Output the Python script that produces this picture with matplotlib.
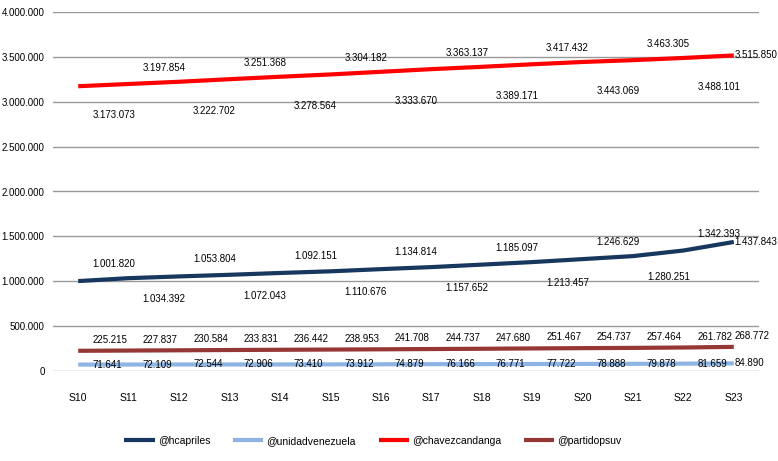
import matplotlib
matplotlib.use("Agg")
import matplotlib.pyplot as plt
from matplotlib import font_manager

weeks = ['S10', 'S11', 'S12', 'S13', 'S14', 'S15', 'S16',
         'S17', 'S18', 'S19', 'S20', 'S21', 'S22', 'S23']
hcapriles = [1001820, 1034392, 1053804, 1072043, 1092151, 1110676, 1134814,
             1157652, 1185097, 1213457, 1246629, 1280251, 1342393, 1437843]
unidadvenezuela = [71641, 72109, 72544, 72906, 73410, 73912, 74879,
                   76166, 76771, 77722, 78888, 79878, 81659, 84890]
chavezcandanga = [3173073, 3197854, 3222702, 3251368, 3278564, 3304182, 3333670,
                  3363137, 3389171, 3417432, 3443069, 3463305, 3488101, 3515850]
partidopsuv = [225215, 227837, 230584, 233831, 236442, 238953, 241708,
               244737, 247680, 251467, 254737, 257464, 261782, 268772]

names = [f.name for f in font_manager.fontManager.ttflist]
fam = ['Liberation Sans Narrow'] if 'Liberation Sans Narrow' in names else []
plt.rcParams['font.family'] = fam + ['Liberation Sans', 'DejaVu Sans']


def fmt(v):
    return f"{v:,}".replace(',', '.')


fig = plt.figure(figsize=(7.78, 4.61), dpi=100)
ax = fig.add_axes([53 / 778, 1 - 371 / 461, (759 - 53) / 778, (371 - 12) / 461])

x = list(range(len(weeks)))
series = [
    ('@hcapriles', hcapriles, '#17375E'),
    ('@unidadvenezuela', unidadvenezuela, '#8EB4E3'),
    ('@chavezcandanga', chavezcandanga, '#FF0000'),
    ('@partidopsuv', partidopsuv, '#953735'),
]
for name, vals, col in series:
    ax.plot(x, vals, color=col, lw=3, label=name, solid_capstyle='butt', zorder=3)


def labels(vals, dy_func):
    n = len(vals)
    for i, v in enumerate(vals):
        dx = 1 if i == n - 1 else 14
        dy = dy_func(i, n)
        ax.annotate(fmt(v), (i, v), xytext=(dx, dy), textcoords='offset pixels',
                    ha='left', va='center', fontsize=7, color='#000000', zorder=4)


# red: even below, odd above
labels(chavezcandanga, lambda i, n: 0 if i == n - 1 else (-29 if i % 2 == 0 else 16))
# dark blue: even above, odd below
labels(hcapriles, lambda i, n: 0 if i == n - 1 else (17 if i % 2 == 0 else -21))
labels(partidopsuv, lambda i, n: 11)
labels(unidadvenezuela, lambda i, n: 0)

ax.set_xlim(-0.5, 13.5)
ax.set_ylim(0, 4000000)
ax.set_yticks(range(0, 4000001, 500000))
ax.set_yticklabels([fmt(t) for t in range(0, 4000001, 500000)], fontsize=7)
ax.set_xticks(x)
ax.set_xticklabels(weeks, fontsize=7.5)
ax.tick_params(length=0)
ax.tick_params(axis='y', pad=6)
ax.tick_params(axis='x', pad=16)
ax.grid(axis='y', color='#999999', lw=1)
ax.set_axisbelow(True)
for s in ax.spines.values():
    s.set_visible(False)

fig.legend(loc='center', bbox_to_anchor=(373 / 778, 1 - 441 / 461), ncol=4,
           frameon=False, fontsize=7.5, handlelength=2.9, columnspacing=2.2,
           handletextpad=0.3)

fig.savefig('out.png', dpi=100)
